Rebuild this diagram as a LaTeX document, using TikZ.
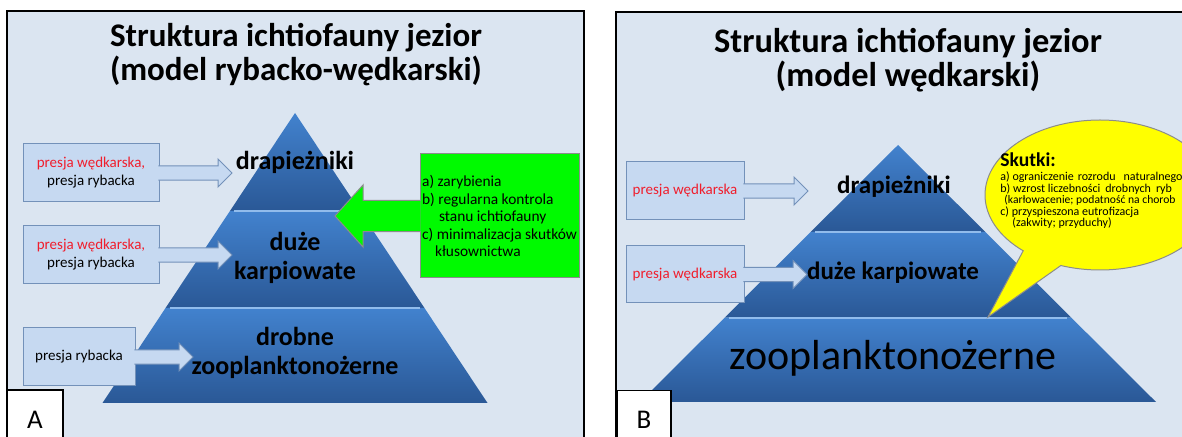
\documentclass[tikz,border=0pt]{standalone}
\usepackage{fontspec}
\setmainfont{Carlito}
\usetikzlibrary{calc,shapes.callouts}

\definecolor{slidebg}{RGB}{219,229,241}
\definecolor{boxfill}{RGB}{198,217,241}
\definecolor{boxline}{RGB}{115,145,185}
\definecolor{pyrtop}{RGB}{66,130,206}
\definecolor{pyrbot}{RGB}{42,88,150}
\definecolor{divline}{RGB}{145,188,236}
\definecolor{wedred}{RGB}{240,30,45}
\definecolor{actgreen}{RGB}{0,250,0}
\definecolor{effyellow}{RGB}{255,255,0}

\begin{document}
\begin{tikzpicture}[
        x=0.5pt, y=-0.5pt,
        panel/.style={draw=black,line width=0.9pt},
        tier/.style={top color=pyrtop,bottom color=pyrbot},
        divider/.style={draw=divline,line width=1pt,shorten <=2pt,shorten >=2pt},
        pressbox/.style={fill=boxfill,draw=boxline,line width=0.5pt,minimum height=29pt,inner sep=0pt,align=center,font=\fontsize{7.5}{9}\selectfont},
        pressarrow/.style={fill=boxfill,draw=boxline,line width=0.5pt,
          to path={let \p1=(\tikztostart), \p2=(\tikztotarget) in
            (\x1-0.6pt,\y1+3.6pt) -- (\x2-7pt,\y1+3.6pt) -- (\x2-7pt,\y1+7pt) -- (\x2,\y1)
            -- (\x2-7pt,\y1-7pt) -- (\x2-7pt,\y1-3.6pt) -- (\x1-0.6pt,\y1-3.6pt)}},
        actarrow/.style={fill=actgreen,draw=black!45,line width=0.5pt,
          to path={let \p1=(\tikztostart), \p2=(\tikztotarget) in
            (\x1+0.6pt,\y1+7.8pt) -- (\x2+14pt,\y1+7.8pt) -- (\x2+14pt,\y1+15.5pt) -- (\x2,\y1)
            -- (\x2+14pt,\y1-15.5pt) -- (\x2+14pt,\y1-7.8pt) -- (\x1+0.6pt,\y1-7.8pt)}},
        tierlabel/.style={align=center,inner sep=1pt,font=\bfseries\fontsize{13}{14.5}\selectfont},
        titletext/.style={align=center,font=\bfseries\fontsize{16.5}{17}\selectfont},
        tag/.style={fill=white,draw=black,line width=0.9pt,minimum width=28pt,minimum height=29.5pt,inner sep=0pt,font=\fontsize{13.5}{14}\selectfont},
      ]

      \clip (0,0) rectangle (1182,437);
      \fill[white] (0,0) rectangle (1182,437);

      \fill[slidebg] (7,11) rectangle (584,437);
      \draw[panel] (7,437) |- (584,11) -- (584,437);
      \fill[slidebg] (616,12) rectangle (1182,437);
      \draw[panel] (616,437) |- (1182,12);

      \node[titletext] (titleA) at (296,55) {Struktura ichtiofauny jezior\\(model rybacko-wędkarski)};
      \node[titletext,font=\bfseries\fontsize{17.2}{17}\selectfont] (titleB) at (908,60) {Struktura ichtiofauny jezior\\(model wędkarski)};

      \coordinate (topA) at (295,113);
      \coordinate (leftA) at (102.5,403);
      \coordinate (rightA) at (487.5,403);
      \coordinate (topB) at (898,145);
      \coordinate (leftB) at (640,402);
      \coordinate (rightB) at (1156,402);

      \foreach \p in {A,B} {
        \foreach \f/\g in {0/0.338,0.338/0.672,0.672/1} {
          \path[tier] ($(top\p)!\f!(left\p)$) -- ($(top\p)!\f!(right\p)$)
            -- ($(top\p)!\g!(right\p)$) -- ($(top\p)!\g!(left\p)$) -- cycle;
        }
        \foreach \f in {0.338,0.672}
          \draw[divider] ($(top\p)!\f!(left\p)$) -- ($(top\p)!\f!(right\p)$);
      }

      \node[tierlabel] (labA1) at (295,162) {drapieżniki};
      \node[tierlabel] (labA2) at (295,257.5) {duże\\karpiowate};
      \node[tierlabel] (labA3) at (295,353) {drobne\\zooplanktonożerne};
      \node[tierlabel,font=\bfseries\fontsize{12.5}{14}\selectfont] (labB1) at (894,187) {drapieżniki};
      \node[tierlabel,font=\bfseries\fontsize{12.5}{14}\selectfont] (labB2) at (893,273) {duże karpiowate};
      \node[tierlabel,font=\fontsize{21}{22}\selectfont] (labB3) at (893,358) {zooplanktonożerne};

      \node[pressbox,minimum width=68pt] (presA1) at (91,173) {\textcolor{wedred}{presja wędkarska,}\\presja rybacka};
      \node[pressbox,minimum width=68pt] (presA2) at (91,255) {\textcolor{wedred}{presja wędkarska,}\\presja rybacka};
      \node[pressbox,minimum width=56pt] (presA3) at (79,357) {presja rybacka};
      \node[pressbox,minimum width=59pt] (presB1) at (685,191) {\textcolor{wedred}{presja wędkarska}};
      \node[pressbox,minimum width=59pt,minimum height=28.5pt] (presB2) at (685,274.5) {\textcolor{wedred}{presja wędkarska}};

      \coordinate (tipA1) at (232,173);
      \coordinate (tipA2) at (232,255);
      \coordinate (tipA3) at (193,357);
      \coordinate (tipB1) at (808,191);
      \coordinate (tipB2) at (807,274.5);

      \draw[pressarrow] (presA1.east) to (tipA1);
      \draw[pressarrow] (presA2.east) to (tipA2);
      \draw[pressarrow] (presA3.east) to (tipA3);
      \draw[pressarrow] (presB1.east) to (tipB1);
      \draw[pressarrow] (presB2.east) to (tipB2);

      \node[fill=actgreen,draw=black!45,line width=0.5pt,minimum width=79.5pt,minimum height=62pt,inner sep=0pt,
            align=left,font=\fontsize{7.7}{8.75}\selectfont] (actions) at (499.5,216)
        {a) zarybienia\\b) regularna kontrola\\\hspace*{8.5pt}stanu ichtiofauny\\c) minimalizacja skutków\\\hspace*{6.5pt}kłusownictwa};
      \coordinate (tipAct) at (335,215);
      \draw[actarrow] (actions.west) to (tipAct);

      \coordinate (tipEff) at (988,317);
      \node[ellipse callout,fill=effyellow,draw=black!45,line width=0.5pt,minimum width=115pt,minimum height=75pt,
            inner sep=0pt,callout absolute pointer={(tipEff)},callout pointer arc=22] (effects) at (1100,195) {};
      \node[anchor=west,align=left,inner sep=0pt,font=\fontsize{6}{5.8}\selectfont] (effectsText) at (1000,191)
        {{\bfseries\fontsize{9.8}{10}\selectfont Skutki:}\\[1pt]
         a) ograniczenie\hspace{2pt}rozrodu\hspace{4pt}naturalnego\\
         b) wzrost liczebności\hspace{2.5pt}drobnych\hspace{2.5pt}ryb\\
         \hspace*{2pt}{\fontsize{5.8}{5.8}\selectfont(karłowacenie; podatność na chorob}\\
         c) przyspieszona eutrofizacja\\
         \hspace*{6pt}(zakwity; przyduchy)};

      \node[tag] (tagA) at (35,419.5) {A};
      \node[tag,minimum width=27pt] (tagB) at (644,420) {B};

    \end{tikzpicture}
\end{document}
